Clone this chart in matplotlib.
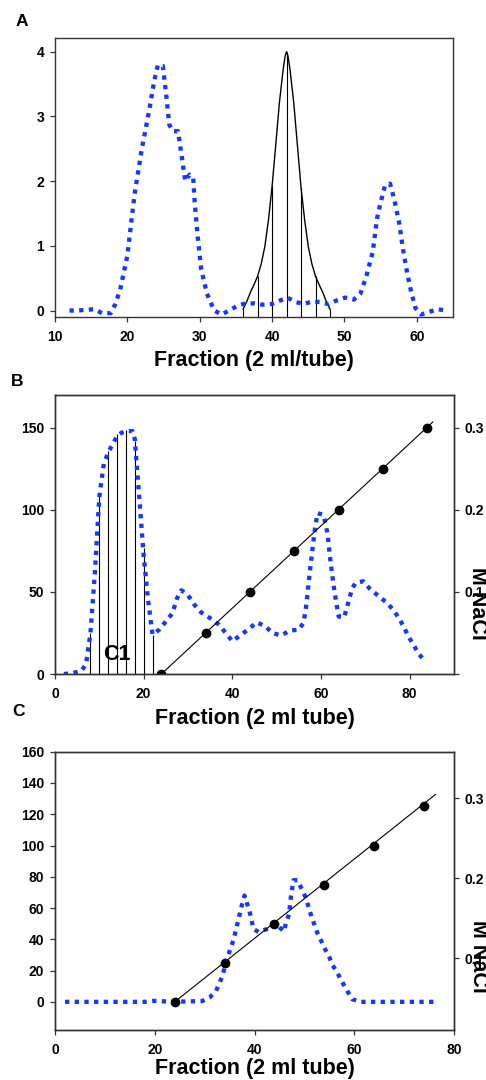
import matplotlib
matplotlib.use("Agg")
import matplotlib.pyplot as plt
import numpy as np

plt.rcParams['font.family'] = ['Liberation Sans', 'DejaVu Sans']
plt.rcParams['font.weight'] = 'bold'

BLUE = '#1438ff'

# ---------------- Panel A data ----------------
a_x = [12, 13.1, 14.2, 15.4, 16.5, 17.7, 18.3, 19, 20, 21, 22, 23, 23.7, 24.2, 24.9,
       25.3, 25.8, 26.3, 27, 27.5, 28, 28.6, 29.1, 29.3, 29.7, 30.2, 31, 32, 33, 34.1,
       35.3, 36.4, 37.6, 38.7, 39.9, 41, 42.1, 43.3, 44.4, 45.5, 46.7, 47.8, 49, 50.1,
       51.3, 52.2, 53, 53.9, 54.5, 55, 55.6, 56.3, 56.9, 57.6, 58.1, 58.7, 59.2, 59.8,
       60.6, 61.7, 62.9, 64]
a_y = [0, 0, 0.01, 0.02, -0.04, -0.04, 0.09, 0.32, 0.85, 1.8, 2.5, 3.08, 3.54, 3.79, 3.78,
       3.4, 2.87, 2.77, 2.77, 2.39, 2.0, 2.1, 2.05, 1.68, 1.16, 0.64, 0.26, 0, -0.06, 0,
       0.08, 0.11, 0.11, 0.09, 0.1, 0.15, 0.2, 0.13, 0.1, 0.14, 0.13, 0.1, 0.16, 0.2,
       0.17, 0.26, 0.52, 0.9, 1.42, 1.67, 1.93, 1.96, 1.71, 1.33, 0.94, 0.56, 0.3, 0.04,
       -0.06, -0.02, 0.02, 0]
a_peak_x = [36, 36.5, 37, 37.5, 38, 38.5, 39, 39.5, 40, 40.5, 41, 41.5, 41.8, 42, 42.2,
            42.5, 43, 43.5, 44, 44.5, 45, 45.5, 46, 46.5, 47, 47.5, 48]
a_peak_y = [0.02, 0.14, 0.28, 0.40, 0.53, 0.72, 0.99, 1.40, 1.92, 2.55, 3.2, 3.7, 3.93, 4.0,
            3.93, 3.7, 3.2, 2.55, 1.9, 1.40, 0.99, 0.72, 0.53, 0.40, 0.28, 0.14, 0.02]
a_cut_x = [36, 38, 40, 42, 44, 46, 48]
a_cut_h = [0.02, 0.53, 1.92, 4.0, 1.9, 0.53, 0.02]

# ---------------- Panel B data ----------------
b_x = [2, 4, 6, 7, 8, 9, 10, 11, 12, 13, 14, 15, 16, 17, 17.5, 18, 18.5, 19, 20, 21, 22,
       23.5, 25, 26.5, 27.5, 28.5, 30, 31.5, 33, 35, 37, 38.5, 40, 41.5, 43.5, 45.5, 47.5,
       49, 51, 53, 55, 56, 56.5, 57, 57.5, 58, 58.5, 59.2, 60.5, 61, 61.5, 62, 62.5, 63,
       63.6, 64, 65.2, 65.8, 66.5, 67, 67.8, 69.5, 71, 73, 74.8, 76.5, 77.8, 78.8, 79.7,
       80.8, 82, 83.5]
b_y = [0, 0.5, 2, 6, 25, 62, 108, 128, 135, 140, 145, 147, 148, 148, 148, 143, 125, 108,
       72, 45, 24, 27, 32, 37, 46, 51, 48, 42, 37.5, 34, 30, 25, 20, 23, 27, 31.5, 29,
       25, 23.5, 26.5, 27, 31, 38, 50, 63, 74, 86, 98, 97, 92, 85, 72, 61, 51,
       41, 35, 34.5, 40, 47, 52, 55.5, 56.5, 52, 47.5, 43.5, 38.5, 33, 28, 23,
       18, 12.5, 7.5]
b_cut_x = [8, 10, 12, 14, 16, 18, 20, 22]
b_cut_h = [25, 110, 136, 146, 148.5, 142, 77, 24]
b_salt_x = [24, 34, 44, 54, 64, 74, 84]
b_salt_y = [0, 25, 50, 75, 100, 125, 150]
b_line_x = [24, 85.2]
b_line_y = [0, 153.5]

# ---------------- Panel C data ----------------
c_x = [2, 18, 19.5, 21, 23, 29.5, 31, 32.3, 33.5, 34.6, 35.8, 36.6, 37.4, 38.0, 38.5, 39.0,
       39.8, 40.8, 42.5, 44.2, 45.9, 46.3, 46.9, 47.3, 47.8, 48.6, 49.5, 50.3, 51.3, 52.5,
       53.3, 54.1, 55.0, 55.7, 56.7, 57.6, 58.6, 59.6, 61.2, 76.5]
c_y = [0, 0, 0.6, 0.6, 0, 0.5, 2.8, 7, 16, 28.6, 39.7, 50.4, 61, 68, 63, 58,
       46.6, 44.7, 46.6, 50.2, 45, 50.4, 55.8, 67, 77.8, 77.8, 72, 66.5, 55.8, 44.9,
       39.5, 34, 28.6, 23.3, 18, 12.6, 7, 1.7, 0, 0]
c_salt_x = [24, 34, 44, 54, 64, 74]
c_salt_y = [0, 25, 50, 75, 100, 125]
c_line_x = [24, 76.3]
c_line_y = [0, 132.7]

W, H = 486, 1080
fig = plt.figure(figsize=(W / 100, H / 100), dpi=100)


def add_axes(left, top, right, bottom):
    return fig.add_axes([left / W, 1 - bottom / H, (right - left) / W, (bottom - top) / H])


def style(ax):
    for s in ax.spines.values():
        s.set_color('#333333')
        s.set_linewidth(1.0)
    ax.tick_params(axis='both', direction='out', length=3.5, width=0.9, color='#333333',
                   labelsize=10)
    ax.tick_params(axis='x', pad=6)
    ax.tick_params(axis='y', pad=4.2)
    for lab in ax.get_xticklabels() + ax.get_yticklabels():
        lab.set_fontweight('bold')


def blue_dots(ax, x, y):
    ln, = ax.plot(x, y, color=BLUE, lw=3.1, linestyle=(0, (1, 1.25)), zorder=3)
    ln.set_dash_capstyle('butt')
    ln.set_solid_joinstyle('miter')


# ---------- A ----------
axA = add_axes(55, 38, 453, 317)
axA.set_xlim(10, 65)
axA.set_ylim(-0.1, 4.21)
axA.vlines(a_cut_x, -0.1, a_cut_h, color='black', lw=0.8, zorder=1)
axA.plot(a_peak_x, a_peak_y, color='black', lw=1.0, zorder=2)
blue_dots(axA, a_x, a_y)
axA.set_xticks([10, 20, 30, 40, 50, 60])
axA.set_yticks([0, 1, 2, 3, 4])
style(axA)
axA.text(0.5, -0.155, 'Fraction (2 ml/tube)', transform=axA.transAxes, ha='center',
         va='center', fontsize=15.5, fontweight='bold')
fig.text(21.5 / W, 1 - 22 / H, 'A', ha='center', va='center', fontsize=12.5, fontweight='bold')

# ---------- B ----------
axB = add_axes(55, 395, 454, 674)
axB.set_xlim(0, 90)
axB.set_ylim(0, 170)
axB.vlines(b_cut_x, 0, b_cut_h, color='black', lw=0.8, zorder=1)
blue_dots(axB, b_x, b_y)
axB.plot(b_line_x, b_line_y, color='black', lw=0.8, zorder=4)
axB.plot(b_salt_x, b_salt_y, 'o', color='black', ms=6, zorder=5)
axB.set_xticks([0, 20, 40, 60, 80])
axB.set_yticks([0, 50, 100, 150])
axB.text(14, 12, 'C1', ha='center', va='center', fontsize=15.5, fontweight='bold')
style(axB)
axB2 = axB.twinx()
axB2.set_ylim(0, 0.34)
axB2.set_yticks([0, 0.1, 0.2, 0.3])
axB2.set_yticklabels(['', '0.1', '0.2', '0.3'])
style(axB2)
axB.text(0.5, -0.158, 'Fraction (2 ml tube)', transform=axB.transAxes, ha='center',
         va='center', fontsize=15.5, fontweight='bold')
fig.text(17.5 / W, 1 - 381 / H, 'B', ha='center', va='center', fontsize=12.5, fontweight='bold')
fig.text(477 / W, 1 - 603 / H, 'M NaCl', ha='center', va='center', rotation=-90,
         fontsize=15.5, fontweight='bold')

# ---------- C ----------
axC = add_axes(55, 751.7, 454, 1030)
axC.set_xlim(0, 80)
axC.set_ylim(-18, 160)
blue_dots(axC, c_x, c_y)
axC.plot(c_line_x, c_line_y, color='black', lw=0.8, zorder=4)
axC.plot(c_salt_x, c_salt_y, 'o', color='black', ms=6, zorder=5)
axC.set_xticks([0, 20, 40, 60, 80])
axC.set_yticks(list(range(0, 161, 20)))
style(axC)
axC2 = axC.twinx()
axC2.set_ylim(0.0104, 0.358)
axC2.set_yticks([0.1, 0.2, 0.3])
axC2.set_yticklabels(['0.1', '0.2', '0.3'])
style(axC2)
axC.text(0.5, -0.137, 'Fraction (2 ml tube)', transform=axC.transAxes, ha='center',
         va='center', fontsize=15.5, fontweight='bold')
fig.text(18.5 / W, 1 - 711 / H, 'C', ha='center', va='center', fontsize=12.5, fontweight='bold')
fig.text(478 / W, 1 - 956 / H, 'M NaCl', ha='center', va='center', rotation=-90,
         fontsize=15.5, fontweight='bold')

fig.savefig('out.png', dpi=100)
